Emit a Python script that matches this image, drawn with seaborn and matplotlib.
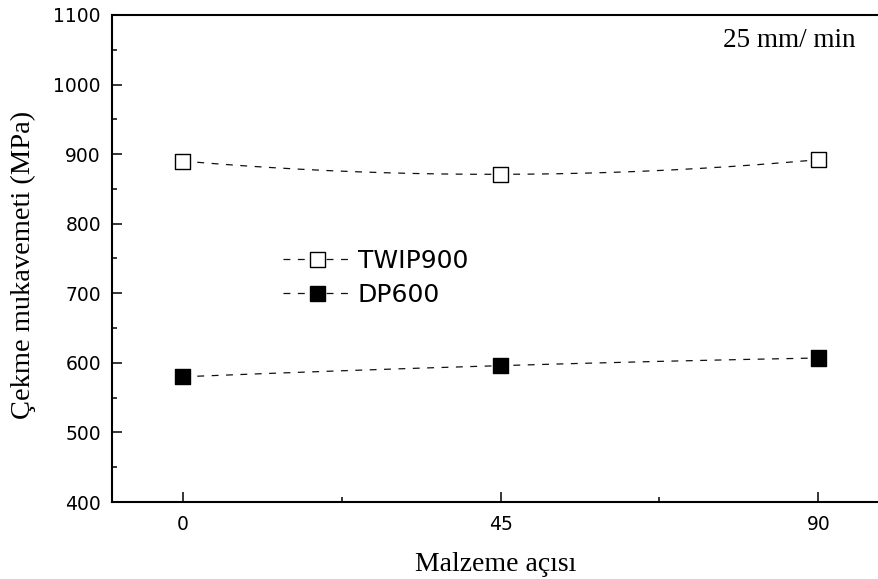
import numpy as np
import pandas as pd
import matplotlib
matplotlib.use("Agg")
import matplotlib.pyplot as plt
from matplotlib.lines import Line2D
from matplotlib.ticker import MultipleLocator
import seaborn as sns

# Tensile strength vs. material angle at 25 mm/min
angles = [0, 45, 90]
twip900 = [890, 871, 892]
dp600 = [580, 596, 607]
series_names = ["TWIP900", "DP600"]
x_ticks = [0, 45, 90]
y_ticks = [400, 500, 600, 700, 800, 900, 1000, 1100]

sns.set_theme(style="ticks")
plt.rcParams["font.family"] = ["DejaVu Sans"]
plt.rcParams["text.color"] = "black"

serif = "Liberation Serif"
ink = "#000000"
line_ink = "#111111"
dash = (0, (5.5, 6.0))

fig = plt.figure(figsize=(8.79, 5.79), dpi=100)
ax = fig.add_axes([112 / 879, 77 / 579, 1 - 112 / 879, 487 / 579])

df = pd.DataFrame({
    "angle": angles * 2,
    "strength": twip900 + dp600,
    "steel": [series_names[0]] * 3 + [series_names[1]] * 3,
})


def smooth_curve(xs, ys, n=200):
    # quadratic connector passing exactly through the measured points
    coef = np.polyfit(xs, ys, len(xs) - 1)
    xx = np.linspace(min(xs), max(xs), n)
    return xx, np.polyval(coef, xx)


for vals in (twip900, dp600):
    xx, yy = smooth_curve(angles, vals)
    ax.plot(xx, yy, color=line_ink, lw=0.9, linestyle=dash, zorder=2)

sns.scatterplot(
    data=df, x="angle", y="strength", hue="steel", style="steel",
    markers={"TWIP900": "s", "DP600": "s"},
    palette={"TWIP900": "white", "DP600": "black"},
    edgecolor=ink, linewidth=1.0, s=118, legend=False, zorder=3, ax=ax,
)

ax.set_xlim(-10.05, 98.6)
ax.set_ylim(400, 1100)
ax.set_xticks(x_ticks)
ax.set_yticks(y_ticks)
ax.xaxis.set_minor_locator(MultipleLocator(22.5))
ax.yaxis.set_minor_locator(MultipleLocator(50))

ax.tick_params(axis="both", which="major", direction="in", length=7.5,
               width=1.1, colors=ink, labelsize=13.5, pad=8)
ax.tick_params(axis="both", which="minor", direction="in", length=3.5,
               width=1.1, colors=ink)
ax.tick_params(axis="x", which="major", pad=9)
ax.tick_params(top=False, right=False, which="both")

for side in ("left", "bottom", "top"):
    ax.spines[side].set_linewidth(1.5)
    ax.spines[side].set_color(ink)
ax.spines["right"].set_visible(False)

ax.set_xlabel("Malzeme açısı", family=serif, fontsize=20, labelpad=13, color=ink)
ax.set_ylabel("Çekme mukavemeti (MPa)", family=serif, fontsize=20.5, color=ink)
ax.yaxis.set_label_coords(-0.099, 0.486)

ax.text(0.970, 0.935, "25 mm/ min", transform=ax.transAxes, ha="right",
        va="baseline", family=serif, fontsize=19.5, color=ink)

handles = [
    Line2D([], [], color=line_ink, lw=0.9, linestyle=dash, marker="s",
           markersize=10.8, markerfacecolor="white", markeredgecolor=ink,
           markeredgewidth=1.0),
    Line2D([], [], color=line_ink, lw=0.9, linestyle=dash, marker="s",
           markersize=10.8, markerfacecolor="black", markeredgecolor=ink,
           markeredgewidth=1.0),
]
ax.legend(handles, series_names, loc="upper left",
          bbox_to_anchor=((283 - 112) / 767, (502 - 249) / 487),
          frameon=False, fontsize=18, handlelength=2.7, handletextpad=0.3,
          labelspacing=0.38, borderpad=0, borderaxespad=0, numpoints=1,
          labelcolor=ink)

fig.savefig("out.png", dpi=100)
